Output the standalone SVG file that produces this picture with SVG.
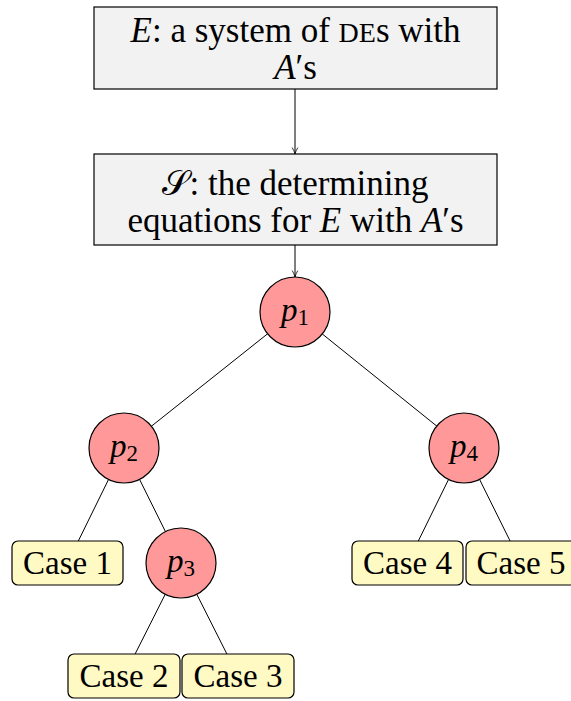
<svg xmlns="http://www.w3.org/2000/svg" width="571" height="701" viewBox="0 0 571 701">
<defs>
<marker id="arr" viewBox="0 0 10 10" refX="9" refY="5" markerWidth="8" markerHeight="8" markerUnits="userSpaceOnUse" orient="auto">
<path d="M1,1.5 Q5,4 9,5 Q5,6 1,8.5" fill="none" stroke="#000" stroke-width="1"/>
</marker>
<style>
.box{fill:#f2f2f2;stroke:#000;stroke-width:1.2}
.circ{fill:#ff9999;stroke:#000;stroke-width:1.2}
.case{fill:#fff9c4;stroke:#000;stroke-width:1.2}
.t{font-family:"Liberation Serif","DejaVu Serif",serif;font-size:33px;fill:#000;text-anchor:middle}
.b{font-size:35px}
.i{font-style:italic}
.edge{stroke:#000;stroke-width:1;fill:none}
</style>
</defs>
<g id="connectors">
<line class="edge" x1="295" y1="89" x2="295" y2="154" marker-end="url(#arr)"/>
<line class="edge" x1="295" y1="245" x2="295" y2="277" marker-end="url(#arr)"/>
<line class="edge" x1="295" y1="312" x2="124" y2="448"/>
<line class="edge" x1="295" y1="312" x2="464" y2="448"/>
<line class="edge" x1="124" y1="448" x2="67.5" y2="563"/>
<line class="edge" x1="124" y1="448" x2="181" y2="563"/>
<line class="edge" x1="181" y1="563" x2="124" y2="676"/>
<line class="edge" x1="181" y1="563" x2="238" y2="676"/>
<line class="edge" x1="464" y1="448" x2="407.5" y2="563"/>
<line class="edge" x1="464" y1="448" x2="521" y2="563"/>
</g>
<g id="E">
<rect class="box" x="94" y="7" width="403" height="82"/>
<text class="t b" x="295.5" y="42"><tspan class="i">E</tspan>: a system of <tspan font-size="28">DE</tspan>s with</text>
<text class="t b" x="295.5" y="79"><tspan class="i">A</tspan>′s</text>
</g>
<g id="S">
<rect class="box" x="94" y="154" width="403" height="91"/>
<text class="t b" x="295.5" y="195">𝒮: the determining</text>
<text class="t b" x="295.5" y="232">equations for <tspan class="i">E</tspan> with <tspan class="i">A</tspan>′s</text>
</g>
<g id="p1">
<circle class="circ" cx="295" cy="312" r="35"/>
<text class="t" x="295" y="321"><tspan class="i">p</tspan><tspan font-size="23" dy="4">1</tspan></text>
</g>
<g id="p2">
<circle class="circ" cx="124" cy="448" r="35"/>
<text class="t" x="124" y="457"><tspan class="i">p</tspan><tspan font-size="23" dy="4">2</tspan></text>
</g>
<g id="p3">
<circle class="circ" cx="181" cy="563" r="35"/>
<text class="t" x="181" y="572"><tspan class="i">p</tspan><tspan font-size="23" dy="4">3</tspan></text>
</g>
<g id="p4">
<circle class="circ" cx="464" cy="448" r="35"/>
<text class="t" x="464" y="457"><tspan class="i">p</tspan><tspan font-size="23" dy="4">4</tspan></text>
</g>
<g id="case1">
<rect class="case" x="12" y="541" width="111" height="44" rx="6"/>
<text class="t" x="67.5" y="574">Case 1</text>
</g>
<g id="case2">
<rect class="case" x="68" y="654" width="112" height="44" rx="6"/>
<text class="t" x="124" y="687">Case 2</text>
</g>
<g id="case3">
<rect class="case" x="182" y="654" width="112" height="44" rx="6"/>
<text class="t" x="238" y="687">Case 3</text>
</g>
<g id="case4">
<rect class="case" x="352" y="541" width="111" height="44" rx="6"/>
<text class="t" x="407.5" y="574">Case 4</text>
</g>
<g id="case5">
<rect class="case" x="466" y="541" width="111" height="44" rx="6"/>
<text class="t" x="521" y="574">Case 5</text>
</g>
</svg>
